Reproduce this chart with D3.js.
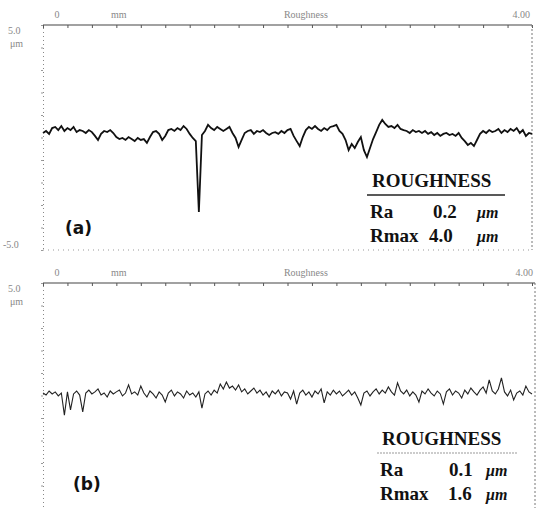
<!DOCTYPE html>
<html><head><meta charset="utf-8">
<script src="https://cdn.jsdelivr.net/npm/d3@7"></script>
<style>body{margin:0;background:#fff}svg{display:block}</style>
</head><body>
<svg id="c" width="539" height="508"></svg>
<script>
const xDomain = [0, 4.0];
const yDomain = [-5, 5];
const stepMM = 0.025;

// Profile (a): height in µm, one value per step
const profileA = [0.20,0.29,0.16,0.42,0.47,0.33,0.51,0.29,0.42,0.33,
0.47,0.24,0.33,0.29,0.20,0.33,0.24,0.07,-0.11,0.16,
0.29,0.24,0.33,0.20,0.02,-0.07,-0.02,-0.11,0.02,-0.07,
-0.16,-0.02,-0.11,-0.07,-0.24,0.02,0.24,0.29,0.16,-0.11,
0.07,0.33,0.38,0.29,0.42,0.33,0.51,0.38,0.16,-0.02,
-0.16,-3.31,0.11,0.29,0.56,0.42,0.33,0.47,0.38,0.29,
0.38,0.47,0.20,-0.02,-0.42,-0.11,0.20,0.29,0.33,0.16,
0.29,0.24,0.33,0.20,0.11,0.20,0.24,0.16,0.29,0.20,
0.33,0.38,0.07,-0.16,-0.38,0.02,0.33,0.47,0.38,0.51,
0.38,0.29,0.42,0.33,0.47,0.51,0.56,0.29,0.16,-0.11,
-0.56,-0.29,-0.47,-0.20,0.02,-0.56,-0.87,-0.47,-0.07,0.24,
0.56,0.78,0.60,0.47,0.51,0.42,0.56,0.38,0.33,0.29,
0.20,0.33,0.24,0.29,0.20,0.29,0.16,0.24,0.11,0.20,
0.07,0.16,0.20,0.11,0.16,0.07,0.20,-0.02,-0.16,-0.33,
-0.24,-0.38,-0.11,0.16,0.29,0.20,0.33,0.24,0.29,0.38,
0.20,0.33,0.24,0.38,0.29,0.42,0.20,0.33,0.07,0.20,0.16];

// Profile (b): height in µm, one value per step
const profileB = [0.11,0.02,0.20,0.07,0.16,-0.02,0.11,-0.87,0.16,-0.64,
0.07,0.20,0.02,-0.73,0.11,0.24,0.07,0.16,0.29,0.02,
0.11,-0.07,0.20,0.07,0.16,0.24,-0.02,0.11,0.47,0.07,
0.16,0.02,0.42,0.11,-0.07,0.20,0.07,-0.11,0.16,0.02,
-0.29,0.11,0.24,-0.02,0.16,0.07,-0.11,0.20,0.02,0.11,
-0.07,0.16,-0.56,0.07,0.20,0.02,0.24,0.11,0.51,0.29,
0.60,0.33,0.42,0.24,0.47,0.16,0.29,0.07,0.20,0.33,
0.11,0.24,0.02,0.16,-0.07,0.20,0.07,0.24,-0.02,0.16,
0.11,-0.16,0.20,-0.38,0.11,0.24,0.02,0.16,-0.07,0.20,
0.07,0.29,-0.33,0.16,0.02,0.24,0.07,0.20,-0.02,0.11,
0.24,0.02,0.16,-0.11,-0.42,0.11,0.20,-0.02,0.16,0.29,
0.07,0.24,0.11,0.38,0.16,0.02,0.56,0.20,0.07,0.24,
-0.02,0.16,0.02,-0.29,0.20,0.07,0.29,0.11,-0.02,0.20,
0.07,-0.38,0.16,0.29,0.02,0.20,0.11,-0.11,0.24,0.07,
0.33,0.16,0.02,0.24,0.38,0.11,0.69,0.20,0.07,0.29,
0.78,0.16,-0.02,0.24,-0.20,0.11,0.20,0.02,0.42,0.16,0.07];

// Panel texts
const panels = [
  {tag:"(a)", top:25, bottom:250, right:532, data:profileA, ra:"0.2", rmax:"4.0"},
  {tag:"(b)", top:283, bottom:508, right:535, data:profileB, ra:"0.1", rmax:"1.6"}
];
const axisLabels = {start:"0", unit:"mm", title:"Roughness", end:"4.00", yMax:"5.0", yUnit:"μm", yMin:"-5.0"};
const boxTitle = "ROUGHNESS";

const svg = d3.select("#c");
const x = d3.scaleLinear().domain(xDomain).range([43, 532]);
const serif = "'Liberation Serif','DejaVu Serif',serif";

panels.forEach((p, k) => {
  const y = d3.scaleLinear().domain(yDomain).range([p.bottom, p.top]);
  const g = svg.append("g");

  // top axis (ticks hanging down)
  const top = g.append("g").attr("transform", `translate(0,${p.top})`)
    .call(d3.axisBottom(x).tickValues(d3.range(0, 4.001, 0.2)).tickSize(3).tickFormat(""));
  top.select(".domain").attr("stroke", "#444").attr("stroke-width", 1.1).attr("d", `M43,0H${p.right}`);
  top.selectAll(".tick line").attr("stroke", "#555");

  // left axis dotted
  const left = g.append("g").attr("transform", "translate(43,0)")
    .call(d3.axisLeft(y).ticks(10).tickSize(2).tickFormat(""));
  left.select(".domain").attr("stroke", "#888").attr("stroke-dasharray", "1,3");
  left.selectAll(".tick line").attr("stroke", "#999");

  // right dashed border
  g.append("line").attr("x1", p.right).attr("x2", p.right).attr("y1", p.top).attr("y2", p.bottom)
    .attr("stroke", "#777").attr("stroke-dasharray", "2,2");
  // bottom faint dotted line
  if (k === 0) {
    g.append("line").attr("x1", 43).attr("x2", p.right).attr("y1", p.bottom).attr("y2", p.bottom)
      .attr("stroke", "#999").attr("stroke-dasharray", "1,4");
  }

  // axis texts
  const lab = (t, xx, yy, anchor) => g.append("text").attr("x", xx).attr("y", yy)
    .attr("text-anchor", anchor || "start").attr("font-family", serif).attr("font-size", 10)
    .attr("fill", "#888").text(t);
  lab(axisLabels.start, x(0) + 14, p.top - 7, "middle");
  lab(axisLabels.unit, x(0.62), p.top - 7, "middle");
  lab(axisLabels.title, x(2.15) , p.top - 7, "middle");
  lab(axisLabels.end, p.right - 2, p.top - 7, "end");
  lab(axisLabels.yMax, 8, p.top + 9);
  lab(axisLabels.yUnit, 10, p.top + 22);
  if (k === 0) lab(axisLabels.yMin, 3, p.bottom - 2);

  // profile line
  const line = d3.line().x((d, i) => x(i * stepMM)).y(d => y(d)).curve(d3.curveLinear);
  g.append("path").datum(p.data).attr("d", line).attr("fill", "none")
    .attr("stroke", k === 0 ? "#111" : "#222").attr("stroke-width", k === 0 ? 1.8 : 1.1)
    .attr("stroke-linejoin", "miter");

  // roughness box
  const bx = k === 0 ? 370 : 380;
  const by = k === 0 ? 187 : 445;
  g.append("text").attr("x", bx + 2).attr("y", by).attr("font-family", serif).attr("font-weight", "bold")
    .attr("font-size", 19).attr("fill", "#111").text(boxTitle);
  g.append("line").attr("x1", bx - 3).attr("x2", k === 0 ? 505 : 518).attr("y1", by + 8).attr("y2", by + 8)
    .attr("stroke", k === 0 ? "#222" : "#999").attr("stroke-width", k === 0 ? 1.5 : 1)
    .attr("stroke-dasharray", k === 0 ? null : "2,1");
  const row = (name, val, yy, vx) => {
    g.append("text").attr("x", bx).attr("y", yy).attr("font-family", serif).attr("font-weight", "bold")
      .attr("font-size", 19).attr("fill", "#111").text(name);
    g.append("text").attr("x", vx).attr("y", yy).attr("font-family", serif).attr("font-weight", "bold")
      .attr("font-size", 19).attr("fill", "#111").text(val);
    g.append("text").attr("x", k === 0 ? 477 : 486).attr("y", yy).attr("font-family", serif).attr("font-weight", "bold")
      .attr("font-style", "italic").attr("font-size", 16).attr("fill", "#111").text(axisLabels.yUnit);
  };
  row("Ra", p.ra, by + 31, k === 0 ? 433 : 449);
  row("Rmax", p.rmax, by + 55, k === 0 ? 429 : 448);

  // panel tag
  g.append("text").attr("x", k === 0 ? 65 : 73).attr("y", k === 0 ? 234 : 490)
    .attr("font-family", "'DejaVu Sans',sans-serif").attr("font-weight", "bold").attr("font-size", 17)
    .attr("fill", "#111").text(p.tag);
});
</script>
</body></html>
